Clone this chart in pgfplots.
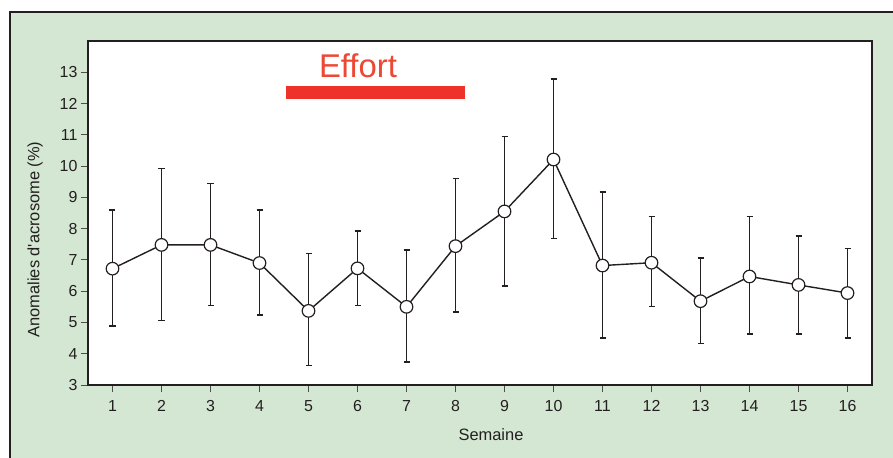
\documentclass[border=0pt]{standalone}
\usepackage{pgfplots}
\pgfplotsset{compat=1.18}
\usepackage{fontspec}
\setmainfont{Liberation Sans}
\newfontfamily\lsans{Liberation Sans}
\definecolor{bggreen}{RGB}{212,231,211}
\definecolor{effred}{RGB}{238,50,42}
\definecolor{efftext}{RGB}{236,72,52}
\definecolor{dk}{RGB}{35,31,32}
\pgfplotstableread{
x y ep em
1 6.72 1.88 1.83
2 7.48 2.44 2.41
3 7.48 1.96 1.93
4 6.90 1.70 1.66
5 5.37 1.83 1.75
6 6.73 1.20 1.18
7 5.50 1.82 1.76
8 7.44 2.17 2.10
9 8.55 2.39 2.38
10 10.21 2.58 2.53
11 6.82 2.35 2.31
12 6.91 1.48 1.40
13 5.68 1.38 1.36
14 6.47 1.92 1.84
15 6.20 1.57 1.57
16 5.94 1.43 1.43
}\data
\begin{document}
\begin{tikzpicture}
\useasboundingbox (-88bp,-73bp) rectangle (805bp,385bp);
\fill[bggreen] (-78bp,-80bp) rectangle (810bp,373bp);
\draw[dk, line width=2bp] (-78bp,-80bp) -- (-78bp,373bp) -- (810bp,373bp);
\begin{axis}[
  at={(0,0)}, anchor=south west,
  scale only axis, width=784bp, height=344bp,
  xmin=0.5, xmax=16.5, ymin=3, ymax=14,
  xtick={1,...,16}, ytick={3,...,13},
  xtick pos=left, ytick pos=left,
  axis background/.style={fill=white},
  axis line style={dk, line width=1.8bp},
  tick style={dk!80, line width=1bp},
  tick align=outside, major tick length=7bp,
  ticklabel style={font=\lsans\fontsize{16}{16}\selectfont, text=dk},
  xticklabel style={yshift=-5bp},
  /pgf/number format/assume math mode=true,
  xlabel={Semaine}, ylabel={Anomalies d'acrosome (\%)},
  label style={font=\lsans\fontsize{16.5}{16.5}\selectfont, text=dk},
  xlabel style={at={(axis description cs:0.514,-0.145)}, anchor=center},
  ylabel style={at={(axis description cs:-0.0676,0.423)}, anchor=center},
  clip=false,
]
\addplot[fill=effred, draw=none] coordinates {(4.54,12.16) (8.20,12.16) (8.20,12.55) (4.54,12.55)} -- cycle;
\node[anchor=base, text=efftext, font=\lsans\fontsize{33}{33}\selectfont] at (axis cs:6.01,12.83) {Effort};
\addplot[dk, line width=1.4bp, mark=*, mark size=6.3bp,
  mark options={fill=white, draw=dk, line width=1.2bp},
  error bars/.cd, y dir=both, y explicit,
  error bar style={dk, line width=1.5bp},
  error mark options={rotate=90, mark size=3bp, dk, line width=1.5bp}]
  table[x=x, y=y, y error plus=ep, y error minus=em] {\data};
\end{axis}
\end{tikzpicture}
\end{document}
